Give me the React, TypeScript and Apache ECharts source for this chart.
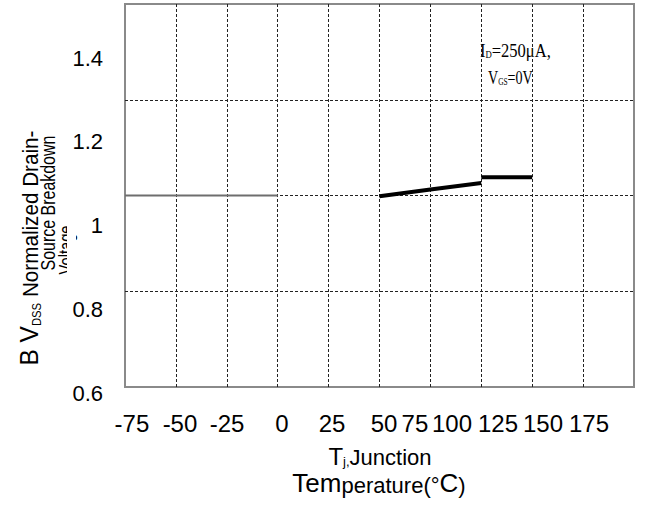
import React, { useEffect, useRef } from "react";
import * as echarts from "echarts";

// ---- data ----
const xTickLabels = ["-75", "-50", "-25", "0", "25", "50", "75", "100", "125", "150", "175"];
const yTickValues = [0.6, 0.8, 1.0, 1.2, 1.4];

// reference level (normalized = 1)
const refTemp = [-75, 0];
const refValue = [1.0, 1.0];

// measured breakdown voltage, rising segment
const riseTemp = [50, 75, 100];
const riseValue = [0.9985, 1.0125, 1.026];

// measured breakdown voltage, flat segment
const flatTemp = [100, 125];
const flatValue = [1.038, 1.038];

// ---- layout (where the reference printed its x tick labels, in axis units) ----
const xLabelAt = [-71.6, -48.0, -24.9, 2.1, 26.7, 52.2, 67.4, 85.6, 108.2, 130.3, 152.9];

const SANS = "'Liberation Sans', Arial, sans-serif";
const SERIF = "'Liberation Serif', 'Times New Roman', serif";

function pairs(xs: number[], ys: number[]) {
  return xs.map((x, i) => [x, ys[i]]);
}

export default function App() {
  const ref = useRef<HTMLDivElement>(null);
  useEffect(() => {
    if (!ref.current) return;
    const chart = echarts.init(ref.current, undefined, { renderer: "svg" });
    const gridLine = { show: true, showMinLine: false, showMaxLine: false, lineStyle: { color: "#222", width: 1, type: [3, 2] } };
    chart.setOption({
      animation: false,
      backgroundColor: "#fff",
      grid: {
        left: 125, top: 4, right: 27, bottom: 119,
        show: true, borderColor: "#8a8a8a", borderWidth: 2, backgroundColor: "transparent",
        outerBoundsMode: "none",
      },
      xAxis: [
        {
          type: "value", position: "bottom", min: -75, max: 175, interval: 25,
          axisLine: { show: false }, axisTick: { show: false }, axisLabel: { show: false },
          splitLine: gridLine,
        },
        {
          type: "value", position: "bottom", min: -75, max: 175,
          axisLine: { show: false }, axisTick: { show: false }, splitLine: { show: false },
          axisLabel: {
            customValues: xLabelAt,
            formatter: (v: number) => {
              const i = xLabelAt.indexOf(v);
              return i >= 0 ? xTickLabels[i] : "";
            },
            color: "#000", fontFamily: SANS, fontSize: 24, margin: 24,
          },
        },
      ],
      yAxis: [
        {
          type: "value", position: "left", min: 0.6, max: 1.4, interval: 0.2,
          axisLine: { show: false }, axisTick: { show: false }, axisLabel: { show: false },
          splitLine: gridLine,
        },
        {
          type: "value", position: "left", min: 0.6, max: 1.515, interval: 0.2,
          axisLine: { show: false }, axisTick: { show: false }, splitLine: { show: false },
          axisLabel: {
            showMaxLabel: false, showMinLabel: true,
            formatter: (v: number) => {
              const hit = yTickValues.find((t) => Math.abs(t - v) < 1e-6);
              return hit === undefined ? "" : String(hit);
            },
            color: "#000", fontFamily: SANS, fontSize: 22, margin: 22,
            verticalAlign: "top", lineHeight: 12,
          },
        },
      ],
      series: [
        {
          type: "line", xAxisIndex: 0, yAxisIndex: 0, data: pairs(refTemp, refValue),
          showSymbol: false, lineStyle: { color: "#6e6e6e", width: 2 },
        },
        {
          type: "line", xAxisIndex: 0, yAxisIndex: 0, data: pairs(riseTemp, riseValue),
          showSymbol: false, lineStyle: { color: "#000", width: 4 },
        },
        {
          type: "line", xAxisIndex: 0, yAxisIndex: 0, data: pairs(flatTemp, flatValue),
          showSymbol: false, lineStyle: { color: "#000", width: 4 },
        },
      ],
      graphic: [
        // y-axis title, three rotated lines
        {
          type: "text", x: 28, y: 248, rotation: Math.PI / 2, scaleX: 0.94,
          style: {
            text: "{a|B V}{s|DSS}{b| Normalized Drain-}",
            align: "center", verticalAlign: "middle", fill: "#000",
            rich: {
              a: { fontFamily: SANS, fontSize: 26, fill: "#000", lineHeight: 28, verticalAlign: "bottom" },
              s: { fontFamily: SANS, fontSize: 12, fill: "#000", lineHeight: 28, verticalAlign: "bottom" },
              b: { fontFamily: SANS, fontSize: 22, fill: "#000", lineHeight: 28, verticalAlign: "bottom" },
            },
          },
        },
        {
          type: "text", x: 48, y: 203, rotation: Math.PI / 2, scaleX: 0.76,
          style: { text: "Source Breakdown", align: "center", verticalAlign: "middle", fill: "#000", font: `21px ${SANS}` },
        },
        {
          type: "text", x: 66, y: 250, rotation: Math.PI / 2, scaleX: 0.7,
          style: { text: "Voltage", align: "center", verticalAlign: "middle", fill: "#000", font: `21px ${SANS}` },
        },
        {
          type: "rect", shape: { x: 67, y: 215, width: 9, height: 70 }, z: 100,
          style: { fill: "#fff" },
        },
        // x-axis title
        {
          type: "text", x: 380, y: 455,
          style: {
            text: "{t|T}{j|j,}{b|Junction}",
            align: "center", verticalAlign: "middle", fill: "#000",
            rich: {
              t: { fontFamily: SANS, fontSize: 24, fill: "#000", lineHeight: 26, verticalAlign: "bottom" },
              j: { fontFamily: SANS, fontSize: 13, fill: "#000", lineHeight: 26, verticalAlign: "bottom" },
              b: { fontFamily: SANS, fontSize: 22, fill: "#000", lineHeight: 26, verticalAlign: "bottom" },
            },
          },
        },
        {
          type: "text", x: 379, y: 482,
          style: {
            text: "{a|Tem}{b|perature(°}{a|C}{b|)}",
            align: "center", verticalAlign: "middle", fill: "#000",
            rich: {
              a: { fontFamily: SANS, fontSize: 26, fill: "#000", lineHeight: 28, verticalAlign: "bottom" },
              b: { fontFamily: SANS, fontSize: 22, fill: "#000", lineHeight: 28, verticalAlign: "bottom" },
            },
          },
        },
        // annotation
        {
          type: "text", x: 480, y: 50, scaleX: 0.87,
          style: {
            text: "{m|I}{s|D}{m|=250μA,}",
            align: "left", verticalAlign: "middle", fill: "#000",
            rich: {
              m: { fontFamily: SERIF, fontSize: 19, fill: "#000", lineHeight: 20, verticalAlign: "bottom" },
              s: { fontFamily: SERIF, fontSize: 10, fill: "#000", lineHeight: 20, verticalAlign: "bottom" },
            },
          },
        },
        {
          type: "text", x: 488, y: 77, scaleX: 0.74,
          style: {
            text: "{m|V}{s|GS}{m|=0V}",
            align: "left", verticalAlign: "middle", fill: "#000",
            rich: {
              m: { fontFamily: SERIF, fontSize: 19, fill: "#000", lineHeight: 20, verticalAlign: "bottom" },
              s: { fontFamily: SERIF, fontSize: 10, fill: "#000", lineHeight: 20, verticalAlign: "bottom" },
            },
          },
        },
      ],
    });
    return () => chart.dispose();
  }, []);
  return <div ref={ref} style={{ position: "fixed", left: 0, top: 0, width: 661, height: 506 }} />;
}
